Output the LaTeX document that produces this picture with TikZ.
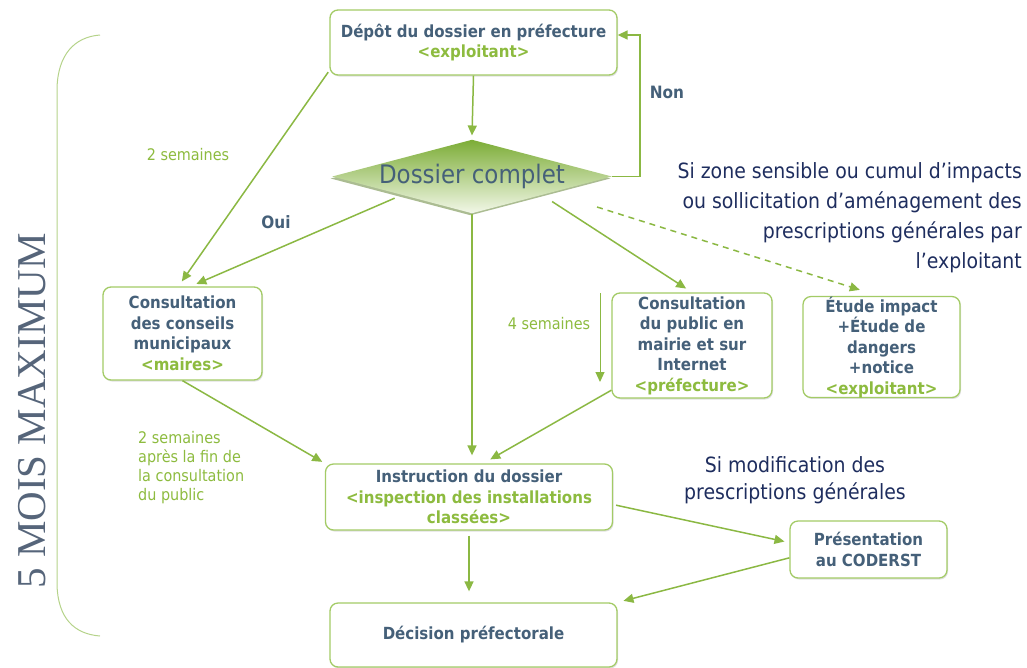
\documentclass[tikz,border=0pt]{standalone}
\usepackage{fontspec}
\setmainfont{DejaVu Sans}[FakeStretch=0.9]
\newfontfamily\serfont{Liberation Serif}
\usetikzlibrary{arrows.meta,shapes.geometric,shadows,calc}
\definecolor{bgreen}{HTML}{A3CB66}
\definecolor{agreen}{HTML}{8BB843}
\definecolor{tgreen}{HTML}{8DBB3F}
\definecolor{tblue}{HTML}{456079}
\definecolor{nblue}{HTML}{1E2D5E}
\definecolor{mgray}{HTML}{56657A}
\definecolor{dtop}{HTML}{7CAD36}
\definecolor{dbot}{HTML}{F2F7E8}
\definecolor{brace}{HTML}{B5D38A}
\begin{document}
\begin{tikzpicture}[x=1pt,y=-1pt,
  box/.style={draw=bgreen, line width=1.3pt, rounded corners=8pt, fill=white, align=center,
    inner sep=0pt, font=\bfseries\fontsize{16.7}{20.5}\selectfont, text=tblue,
    drop shadow={shadow xshift=1pt, shadow yshift=-1.5pt, fill=black, opacity=0.12}},
  arr/.style={draw=agreen, line width=1.5pt, -{Triangle[length=10pt,width=9pt]}},
  glab/.style={text=tgreen, font=\fontsize{16}{19}\selectfont, align=left, inner sep=0pt},
  blab/.style={text=tblue, font=\bfseries\fontsize{17}{19}\selectfont, inner sep=0pt},
  nlab/.style={text=nblue, font=\fontsize{21}{30}\selectfont, inner sep=0pt}]
\useasboundingbox (0,0) rectangle (1027,667);

% brace
\draw[brace, line width=1pt] (100,35) .. controls (74,37) and (58,55) .. (57,88) -- (57,585)
  .. controls (58,618) and (74,634) .. (100,636);
\node[text=mgray, font=\serfont\fontsize{41}{41}\selectfont, rotate=90, inner sep=0pt] (mois) at (32,411) {5 MOIS MAXIMUM};

% nodes
\node[box, minimum width=287pt, minimum height=65pt] (depot) at (473.5,42.5)
  {Dépôt du dossier en préfecture\\\textcolor{tgreen}{\textless exploitant\textgreater}};
\node[diamond, aspect=3.8, inner sep=0pt, minimum width=277pt, minimum height=73pt,
  top color=dtop, bottom color=dbot, text=tblue, font=\fontsize{25.5}{25.5}\selectfont,
  drop shadow={shadow xshift=-1.5pt, shadow yshift=-2pt, fill=dtop!70!black, opacity=0.5}] (dc) at (472,176.5) {Dossier complet};
\node[box, minimum width=159pt, minimum height=93pt] (ccm) at (182.5,333.5)
  {Consultation\\des conseils\\municipaux\\\textcolor{tgreen}{\textless maires\textgreater}};
\node[box, minimum width=160pt, minimum height=105pt] (cpub) at (692,345.5)
  {Consultation\\du public en\\mairie et sur\\Internet\\\textcolor{tgreen}{\textless préfecture\textgreater}};
\node[box, minimum width=157pt, minimum height=100pt] (etude) at (881.5,347)
  {Étude impact\\+Étude de\\dangers\\+notice\\\textcolor{tgreen}{\textless exploitant\textgreater}};
\node[box, minimum width=287pt, minimum height=66pt] (instr) at (469,497)
  {Instruction du dossier\\\textcolor{tgreen}{\textless inspection des installations}\\\textcolor{tgreen}{classées\textgreater}};
\node[box, minimum width=157pt, minimum height=57pt] (pres) at (868.5,549.5)
  {Présentation\\au CODERST};
\node[box, minimum width=287pt, minimum height=64pt] (dec) at (473.5,635)
  {Décision préfectorale};

% labels
\node[blab] (non) at (667,92) {Non};
\node[blab] (oui) at (276,222) {Oui};
\node[glab] (s2) at (188,155) {2 semaines};
\node[glab] (s4) at (549,324) {4 semaines};
\node[glab, anchor=north west] (s2b) at (138,431) {2 semaines\\après la fin de\\la consultation\\du public};
\node[nlab, anchor=north east, align=right] (zone) at (1022,162)
  {Si zone sensible ou cumul d’impacts\\ou sollicitation d’aménagement des\\prescriptions générales par\\l’exploitant};
\node[nlab, align=center, font=\fontsize{21}{27}\selectfont] (modif) at (795,480)
  {Si modification des\\prescriptions générales};

% connectors
\coordinate (nonc) at (640,35);
\coordinate (dstart) at (597,207);
\coordinate (fs) at (600,293);
\coordinate (fe) at (600,382);

\draw[arr] (depot.south) -- ([yshift=4pt]dc.north);
\draw[arr] (dc.east) -| (nonc) -- (nonc -| depot.east);
\draw[arr, shorten <=2pt, shorten >=6pt] (depot.191) -- (ccm.95);
\draw[arr, shorten <=8pt, shorten >=6pt] (dc.south west) -- (ccm.80);
\draw[arr, shorten >=8pt] (dc.south) -- (dc.south |- instr.north);
\draw[arr, shorten <=12pt, shorten >=7pt] (dc.south east) -- (cpub.north);
\draw[arr, dashed, dash pattern=on 6pt off 5pt] (dstart) -- ([yshift=6pt]etude.113);
\draw[arr, line width=1pt] (fs) -- (fe);
\draw[arr, shorten >=8pt] (cpub.209) -- (instr.67);
\draw[arr, shorten >=3pt] (ccm.south) -- (instr.north west);
\draw[arr, shorten <=3pt, shorten >=5pt] (instr.-3) -- (pres.175);
\draw[arr, shorten >=6pt] (pres.186) -- (dec.north east);
\draw[arr, shorten <=5pt, shorten >=11pt] (instr.south) -- (instr.south |- dec.north);
\end{tikzpicture}
\end{document}
